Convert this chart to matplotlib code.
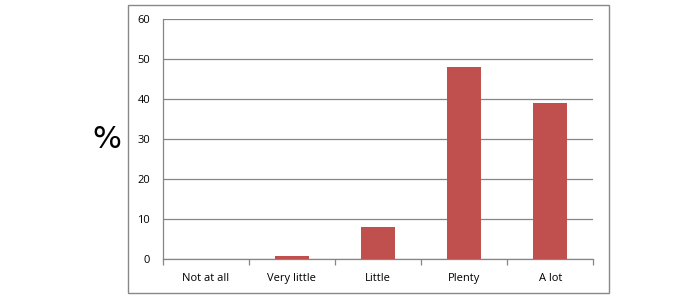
import numpy as np
from matplotlib import pyplot as plt
from matplotlib.patches import Rectangle
from matplotlib.ticker import FixedLocator, MultipleLocator

categories = ['Not at all', 'Very little', 'Little', 'Plenty', 'A lot']
percent = [0, 0.8, 8, 48, 39]

BAR_COLOR = '#C0504D'
GRID_COLOR = '#868686'

plt.rcParams['font.family'] = ['Open Sans', 'DejaVu Sans']

fig = plt.figure(figsize=(7.0, 3.05), dpi=100)

# outer chart frame
fig.patches.append(Rectangle((0.1833, 0.0384), 0.6863, 0.9443,
                             transform=fig.transFigure, fill=False,
                             edgecolor='#888888', linewidth=1.0))

ax = fig.add_axes([0.2324, 0.1498, 0.6152, 0.7869])
x = np.arange(len(categories))
ax.bar(x, percent, width=0.4, color=BAR_COLOR, zorder=3)

ax.set_xlim(-0.5, len(categories) - 0.5)
ax.set_ylim(0, 60)
ax.yaxis.set_major_locator(MultipleLocator(10))
ax.grid(axis='y', color=GRID_COLOR, linewidth=0.9, zorder=0)

ax.set_xticks(x)
ax.set_xticklabels(categories, fontsize=8)
ax.xaxis.set_minor_locator(FixedLocator(np.arange(len(categories) + 1) - 0.5))
ax.tick_params(axis='x', which='major', length=0, pad=9.5)
ax.tick_params(axis='x', which='minor', length=4, color=GRID_COLOR, width=0.9)
ax.tick_params(axis='y', length=0, pad=9, labelsize=8)

for side in ('top', 'right'):
    ax.spines[side].set_visible(False)
for side in ('left', 'bottom'):
    ax.spines[side].set_color(GRID_COLOR)
    ax.spines[side].set_linewidth(0.9)

fig.text(107 / 700, 1 - 139.5 / 305, '%', fontsize=22,
         ha='center', va='center', family=['DejaVu Sans'])

fig.savefig('out.png', dpi=100)
plt.close()
